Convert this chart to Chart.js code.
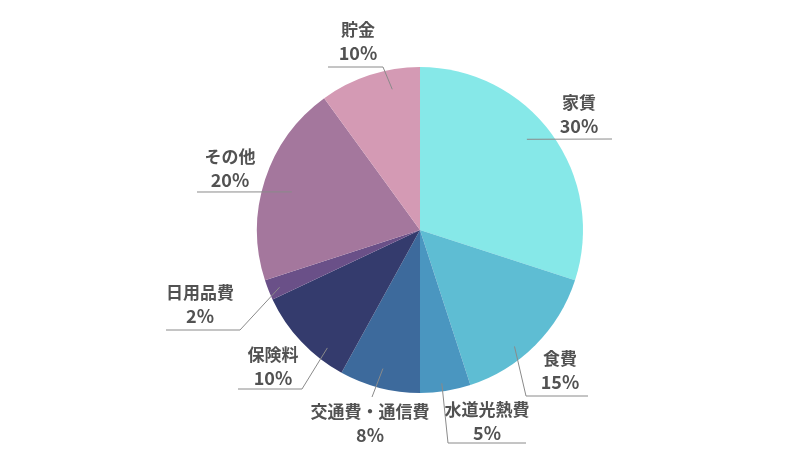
<!DOCTYPE html>
<html>
<head>
<meta charset="utf-8">
<script src="https://cdn.jsdelivr.net/npm/chart.js@4/dist/chart.umd.min.js"></script>
<style>
  html,body{margin:0;padding:0;background:#fff;}
  #wrap{width:800px;height:450px;}
</style>
</head>
<body>
<div id="wrap"><canvas id="chart"></canvas></div>
<script>
const categories = ['家賃','食費','水道光熱費','交通費・通信費','保険料','日用品費','その他','貯金'];
const shares = [30,15,5,8,10,2,20,10];
const sliceColors = ['#86e8e8','#5ebdd3','#4a96c0','#3d6a9c','#343b6d','#6a5088','#a4779d','#d49ab4'];

// label placement, offsets from the pie centre (px); t/f = where the leader starts inside the slice
const labelLayout = [
  { t:0.46, f:0.86, line:[[192,-91]],             text:[159,-127] },
  { t:0.61, f:0.92, line:[[106,166],[168,166]],   text:[140,129] },
  { t:0.55, f:0.95, line:[[28,213],[106,213]],    text:[67,180] },
  { t:0.52, f:0.88, line:[[-48,167]],             text:[-50,182] },
  { t:0.26, f:0.92, line:[[-118,159],[-182,159]], text:[-147,125] },
  { t:0.42, f:0.93, line:[[-180,100],[-254,100]], text:[-220,63] },
  { t:0.48, f:0.82, line:[[-223,-38]],            text:[-190,-73] },
  { t:0.69, f:0.88, line:[[-37,-163],[-92,-163]], text:[-62,-200] }
];

const leaderLabels = {
  id:'leaderLabels',
  afterDatasetsDraw(chart){
    const ctx = chart.ctx;
    const arcs = chart.getDatasetMeta(0).data;
    ctx.save();
    arcs.forEach((arc,i)=>{
      const L = labelLayout[i];
      const cx = arc.x, cy = arc.y;
      const a = arc.startAngle + (arc.endAngle - arc.startAngle)*L.t;
      const r = arc.outerRadius*L.f;
      ctx.beginPath();
      ctx.moveTo(cx + Math.cos(a)*r, cy + Math.sin(a)*r);
      L.line.forEach(p=> ctx.lineTo(cx+p[0], cy+p[1]));
      ctx.strokeStyle='#8a8a8a';
      ctx.lineWidth=1;
      ctx.stroke();

      ctx.fillStyle='#525252';
      ctx.textAlign='center';
      ctx.textBaseline='middle';
      ctx.font='bold 17px "Noto Sans CJK JP", "Noto Sans", sans-serif';
      ctx.fillText(categories[i], cx+L.text[0], cy+L.text[1]);
      ctx.font='bold 18px "Noto Sans CJK JP", "Noto Sans", sans-serif';
      ctx.fillText(shares[i]+'%', cx+L.text[0], cy+L.text[1]+23);
    });
    ctx.restore();
  }
};

new Chart(document.getElementById('chart'),{
  type:'pie',
  data:{ labels:categories, datasets:[{ data:shares, backgroundColor:sliceColors, borderWidth:0, hoverOffset:0 }] },
  options:{
    responsive:true, maintainAspectRatio:false, animation:false,
    layout:{ padding:{ top:67, bottom:57, left:40, right:0 } },
    plugins:{ legend:{display:false}, tooltip:{enabled:false} }
  },
  plugins:[leaderLabels]
});
</script>
</body>
</html>
